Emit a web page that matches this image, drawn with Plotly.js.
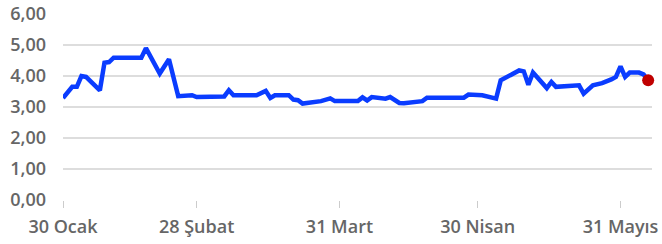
<!DOCTYPE html>
<html><head><meta charset="utf-8">
<script src="https://cdn.plot.ly/plotly-3.0.1.min.js"></script>
<style>html,body{margin:0;padding:0;background:#fff}#c{width:662px;height:244px}</style>
</head><body><div id="c"></div>
<script>
const dates = ['2023-01-30','2023-02-01','2023-02-02','2023-02-03','2023-02-04','2023-02-07','2023-02-08','2023-02-09','2023-02-10','2023-02-16','2023-02-17','2023-02-20','2023-02-22','2023-02-24','2023-02-27','2023-02-28','2023-03-06','2023-03-07','2023-03-08','2023-03-13','2023-03-15','2023-03-16','2023-03-17','2023-03-20','2023-03-21','2023-03-22','2023-03-23','2023-03-27','2023-03-29','2023-03-30','2023-04-04','2023-04-05','2023-04-06','2023-04-07','2023-04-10','2023-04-11','2023-04-13','2023-04-14','2023-04-18','2023-04-19','2023-04-27','2023-04-28','2023-05-01','2023-05-04','2023-05-05','2023-05-07','2023-05-09','2023-05-10','2023-05-11','2023-05-12','2023-05-15','2023-05-16','2023-05-17','2023-05-22','2023-05-23','2023-05-25','2023-05-27','2023-05-29','2023-05-30','2023-05-31','2023-06-01','2023-06-02','2023-06-04','2023-06-05','2023-06-06'];
const values = [3.29,3.65,3.65,4.00,3.97,3.54,4.43,4.45,4.59,4.59,4.90,4.08,4.54,3.35,3.38,3.32,3.34,3.54,3.38,3.38,3.52,3.29,3.38,3.38,3.24,3.22,3.11,3.19,3.28,3.19,3.19,3.31,3.21,3.32,3.27,3.32,3.13,3.12,3.19,3.30,3.30,3.40,3.38,3.27,3.86,4.02,4.18,4.15,3.72,4.11,3.61,3.81,3.65,3.70,3.43,3.70,3.77,3.89,3.97,4.31,3.97,4.11,4.11,4.05,3.86];
const tickDates = ['2023-01-30','2023-02-28','2023-03-31','2023-04-30','2023-05-31'];
const tickLabels = ['30 Ocak','28 Şubat','31 Mart','30 Nisan','31 Mayıs'];
const yTicks = [0,1,2,3,4,5,6];

const last = dates.length - 1;
const traces = [
  {x: dates, y: values, type: 'scatter', mode: 'lines',
   line: {color: '#0a3cff', width: 4.5}, hoverinfo: 'skip'},
  {x: [dates[last]], y: [values[last]], type: 'scatter', mode: 'markers',
   marker: {color: '#c00000', size: 12}, cliponaxis: false, hoverinfo: 'skip'}
];
const font = {family: '"Open Sans", sans-serif', size: 18, color: '#666666', weight: 600};
const layout = {
  width: 662, height: 244,
  margin: {l: 63, r: 10, t: 14, b: 44},
  showlegend: false,
  separators: ',.',
  paper_bgcolor: '#fff', plot_bgcolor: '#fff',
  font: font,
  xaxis: {type: 'date', range: ['2023-01-30', '2023-06-06 20:00'],
    tickvals: tickDates, ticktext: tickLabels, showgrid: false, zeroline: false,
    showline: false, ticks: 'outside', ticklen: 7, tickcolor: '#cccccc', tickwidth: 1,
    ticklabelstandoff: 3, tickfont: font, fixedrange: true},
  yaxis: {range: [0, 6], tickvals: yTicks, tickformat: '.2f', showgrid: true,
    gridcolor: '#dddddd', gridwidth: 2, zeroline: false, showline: false,
    ticks: '', ticklabelstandoff: 16, tickfont: font, fixedrange: true}
};
Plotly.newPlot('c', traces, layout, {staticPlot: true, displayModeBar: false});
</script></body></html>
